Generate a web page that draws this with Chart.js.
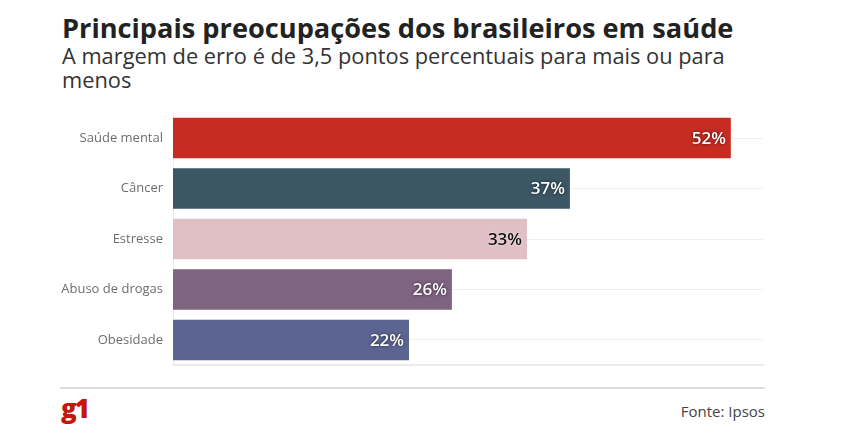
<!DOCTYPE html>
<html lang="pt-BR">
<head>
<meta charset="utf-8">
<script src="https://cdn.jsdelivr.net/npm/chart.js@4"></script>
<style>
  body { margin: 0; background: #fff; font-family: "Open Sans", sans-serif; }
  #pagina { position: relative; width: 849px; height: 442px; overflow: hidden; }
  #titulo { position: absolute; left: 62px; top: 9px; font-size: 27.2px; font-weight: 700; color: #222; margin: 0; white-space: nowrap; }
  #subtitulo { position: absolute; left: 62px; top: 44px; font-size: 21.8px; line-height: 24px; color: #333; margin: 0; white-space: nowrap; }
  #grafica { position: absolute; left: 0; top: 95px; }
  #linha { position: absolute; left: 60px; top: 387px; width: 705px; height: 2px; background: #dcdcdc; }
  #logo { position: absolute; left: 61px; top: 390px; font-size: 26px; font-weight: 800; color: #c4170c; letter-spacing: -2px; }
  #fonte { position: absolute; right: 84px; top: 401px; font-size: 15px; color: #444; }
</style>
</head>
<body>
<div id="pagina">
  <h1 id="titulo">Principais preocupações dos brasileiros em saúde</h1>
  <p id="subtitulo">A margem de erro é de 3,5 pontos percentuais para mais ou para<br>menos</p>
  <canvas id="grafica" width="790" height="288"></canvas>
  <div id="linha"></div>
  <div id="logo">g1</div>
  <div id="fonte">Fonte: Ipsos</div>
</div>
<script>
// dados
const categorias = ['Saúde mental', 'Câncer', 'Estresse', 'Abuso de drogas', 'Obesidade'];
const valores = [52, 37, 33, 26, 22];
const cores = ['#c62c22', '#3b5665', '#e0bfc5', '#806381', '#5c6592'];
const coresTexto = ['#fff', '#fff', '#111', '#fff', '#fff'];

// escreve o valor dentro da ponta de cada barra
const rotulos = {
    id: 'rotulos',
    afterDatasetsDraw(chart) {
        const ctx = chart.ctx;
        const meta = chart.getDatasetMeta(0);
        ctx.save();
        ctx.font = '600 17px "Open Sans"';
        ctx.textAlign = 'right';
        ctx.textBaseline = 'middle';
        meta.data.forEach((barra, i) => {
            const escuro = coresTexto[i] === '#fff';
            ctx.shadowColor = escuro ? 'rgba(0,0,0,0.7)' : 'rgba(255,255,255,0.8)';
            ctx.shadowBlur = 3;
            ctx.fillStyle = coresTexto[i];
            ctx.fillText(valores[i] + '%', barra.x - 5, barra.y + 1);
        });
        ctx.restore();
    }
};

const ctx = document.getElementById('grafica').getContext('2d');

new Chart(ctx, {
    type: 'bar',
    data: {
        labels: categorias,
        datasets: [{
            data: valores,
            backgroundColor: cores,
            barPercentage: 0.8,
            categoryPercentage: 1
        }]
    },
    options: {
        indexAxis: 'y',
        responsive: false,
        animation: false,
        layout: { autoPadding: false, padding: { top: 0, bottom: 0, right: 27, left: 0 } },
        plugins: {
            legend: { display: false },
            tooltip: { enabled: false }
        },
        scales: {
            x: {
                min: 0,
                max: 55,
                ticks: { display: false },
                grid: { display: false },
                border: { display: true, color: '#ececec', width: 2 },
                afterFit(scale) { scale.height = 0; }
            },
            y: {
                grid: { offset: false, color: '#f0f0f0', drawTicks: false },
                border: { display: true, color: '#ececec' },
                ticks: {
                    color: '#6e6e6e',
                    padding: 10,
                    font: { family: 'Open Sans', size: 13 }
                },
                afterFit(scale) { scale.width = 173; }
            }
        }
    },
    plugins: [rotulos]
});
</script>
</body>
</html>
